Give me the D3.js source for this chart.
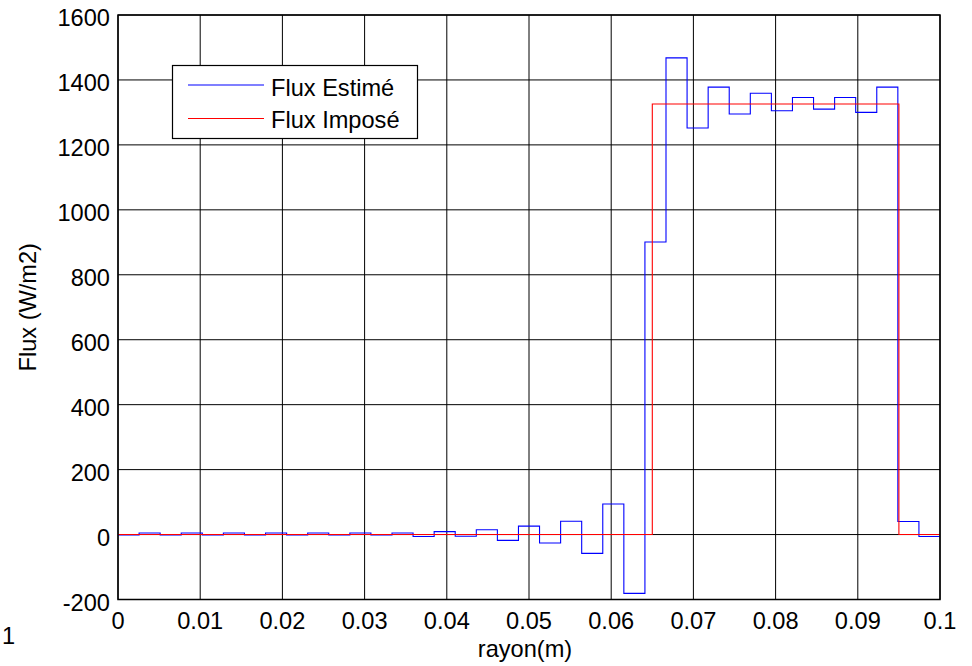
<!DOCTYPE html>
<html>
<head>
<meta charset="utf-8">
<script src="https://cdn.jsdelivr.net/npm/d3@7"></script>
<style>
  html, body { margin: 0; padding: 0; background: #fff; }
  svg { display: block; font-family: Arial, "Liberation Sans", Helvetica, sans-serif; }
</style>
</head>
<body>
<svg id="chart" width="972" height="666"></svg>
<script>
// ---- data ----
const xTicks = [0, 0.01, 0.02, 0.03, 0.04, 0.05, 0.06, 0.07, 0.08, 0.09, 0.1];
const xTickLabels = ["0", "0.01", "0.02", "0.03", "0.04", "0.05", "0.06", "0.07", "0.08", "0.09", "0.1"];
const yTicks = [-200, 0, 200, 400, 600, 800, 1000, 1200, 1400, 1600];
const yTickLabels = ["-200", "0", "200", "400", "600", "800", "1000", "1200", "1400", "1600"];

// Flux Estimé : 39 piecewise-constant bins over [0, 0.1]
const fluxEstime = [
  -1, 5, -1, 5, -1, 5, -1, 5, -1, 5,
  -1, 5, -1, 5, -6, 9, -5, 15, -18, 26,
  -26, 41, -58, 94, -181, 901, 1468, 1252, 1378, 1295,
  1359, 1305, 1346, 1310, 1346, 1300, 1378, 40, -6
];
// Flux Imposé : step breakpoints
const imposeX = [0, 0.065, 0.095, 0.1];
const imposeY = [0, 1326, 0, 0];

const seriesNames = ["Flux Estimé", "Flux Imposé"];
const seriesColors = ["#0000ff", "#ff0000"];
const xLabel = "rayon(m)";
const yLabel = "Flux (W/m2)";
const strayLabel = "1";

// ---- layout ----
const svg = d3.select("#chart");
const L = 118, R = 940, T = 15, B = 599.5;
const FS = 23.6;

const x = d3.scaleLinear().domain([0, 0.1]).range([L, R]);
const y = d3.scaleLinear().domain([-200, 1600]).range([B, T]);

// grid
const grid = svg.append("g").attr("stroke", "#000").attr("stroke-width", 1);
grid.selectAll("line.v").data(xTicks).enter().append("line")
  .attr("x1", d => x(d)).attr("x2", d => x(d)).attr("y1", T).attr("y2", B);
grid.selectAll("line.h").data(yTicks).enter().append("line")
  .attr("x1", L).attr("x2", R).attr("y1", d => y(d)).attr("y2", d => y(d));

// series
const nBins = fluxEstime.length;
const dx = 0.1 / nBins;
const estPts = fluxEstime.map((v, i) => [i * dx, v]);
estPts.push([0.1, fluxEstime[nBins - 1]]);
const line = d3.line().x(d => x(d[0])).y(d => y(d[1])).curve(d3.curveStepAfter);

svg.append("path").datum(estPts)
  .attr("fill", "none").attr("stroke", seriesColors[0]).attr("stroke-width", 1.1)
  .attr("d", line);
svg.append("path").datum(imposeX.map((v, i) => [v, imposeY[i]]))
  .attr("fill", "none").attr("stroke", seriesColors[1]).attr("stroke-width", 1.1)
  .attr("d", line);

// axes box
svg.append("rect").attr("x", L).attr("y", T).attr("width", R - L).attr("height", B - T)
  .attr("fill", "none").attr("stroke", "#000").attr("stroke-width", 1.5);

// x tick labels
svg.append("g").selectAll("text").data(xTicks).enter().append("text")
  .attr("x", d => x(d)).attr("y", 628.5)
  .attr("text-anchor", "middle").attr("font-size", FS).attr("fill", "#000")
  .text((d, i) => xTickLabels[i]);

// y tick labels
svg.append("g").selectAll("text").data(yTicks).enter().append("text")
  .attr("x", 110).attr("y", d => y(d) + 11)
  .attr("text-anchor", "end").attr("font-size", FS).attr("fill", "#000")
  .text((d, i) => yTickLabels[i]);

// axis labels
svg.append("text").attr("x", (L + R) / 2 - 4).attr("y", 657)
  .attr("text-anchor", "middle").attr("font-size", FS).text(xLabel);
svg.append("text").attr("transform", `translate(36,${(T + B) / 2}) rotate(-90)`)
  .attr("text-anchor", "middle").attr("font-size", FS).text(yLabel);

// stray label
svg.append("text").attr("x", 2).attr("y", 644).attr("font-size", FS).text(strayLabel);

// legend
const lg = svg.append("g");
lg.append("rect").attr("x", 172.5).attr("y", 65.5).attr("width", 245).attr("height", 73)
  .attr("fill", "#fff").attr("stroke", "#000").attr("stroke-width", 1.2);
const legY = [85, 118.5];
const legTextY = [95.5, 128];
seriesNames.forEach((name, i) => {
  lg.append("line").attr("x1", 188).attr("x2", 264).attr("y1", legY[i]).attr("y2", legY[i])
    .attr("stroke", seriesColors[i]).attr("stroke-width", 1.1);
  lg.append("text").attr("x", 271).attr("y", legTextY[i]).attr("font-size", FS).text(name);
});
</script>
</body>
</html>
